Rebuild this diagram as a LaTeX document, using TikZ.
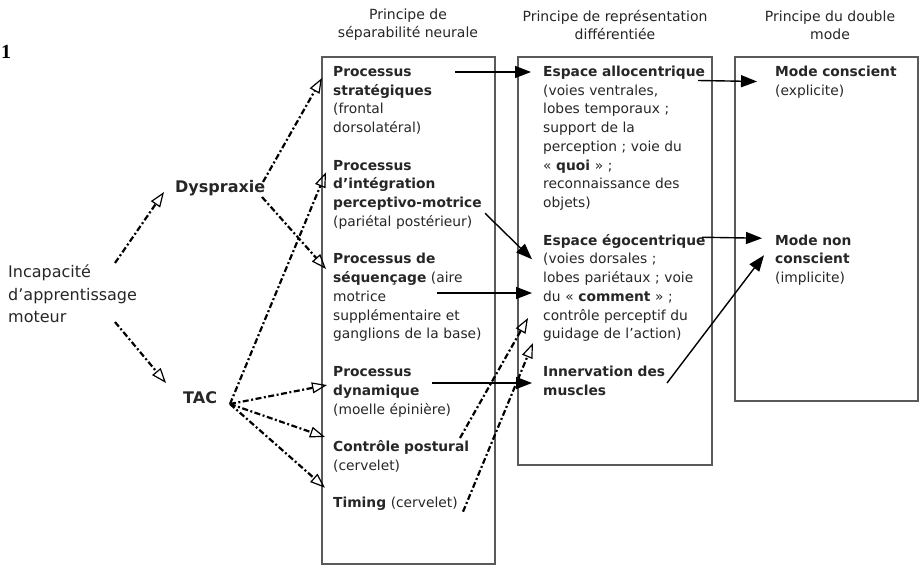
\documentclass[tikz,border=0pt]{standalone}
\usepackage{fontspec}
\setmainfont{DejaVu Sans}
\newfontfamily\serifnum{Liberation Serif}
\usetikzlibrary{arrows.meta}
\definecolor{txtgray}{HTML}{262626}
\definecolor{boxgray}{HTML}{5A5A5A}

\begin{document}
\begin{tikzpicture}[
		x=1pt, y=-1pt,
		every node/.style={inner sep=0pt, text=txtgray},
		title/.style={align=center, font=\fontsize{14}{18}\selectfont},
		blk/.style={anchor=base west, align=left, text width=168pt, font=\fontsize{13.8}{18.75}\selectfont},
		lbl/.style={anchor=base west, font=\fontsize{16}{22.5}\selectfont},
		lblb/.style={anchor=base west, font=\fontsize{16}{22.5}\selectfont\bfseries},
		frame/.style={draw=boxgray, line width=1.4pt},
		plain/.style={draw=black, line width=1.4pt, -{Triangle[length=16pt, width=12pt]}},
		dashdot/.style={draw=black, line width=2.2pt, dash pattern=on 6pt off 2.5pt on 2pt off 2.5pt, -{Triangle[open, length=15pt, width=11pt, line width=1.2pt]}},
		]
		\useasboundingbox (0,0) rectangle (921,569);
		% the three columns
		\draw[frame] (322,57) rectangle (495,564);
		\draw[frame] (518,57) rectangle (712,465);
		\draw[frame] (735,57) rectangle (918,401);
		\node[title] (hsep) at (408,25) {Principe de\\séparabilité neurale};
		\node[title] (hrep) at (615,25) {Principe de représentation\\différentiée};
		\node[title] (hmode) at (830,25) {Principe du double\\mode};
		% left part
		\node[anchor=west, text=black, font=\serifnum\bfseries\fontsize{20}{20}\selectfont] (fignum) at (1,52) {1};
		\node[lbl, align=left, text width=150pt] (inc) at (8,278) {Incapacité\\d’apprentissage\\moteur};
		\node[lblb] (dys) at (175,193) {Dyspraxie};
		\node[lblb] (tac) at (183,403) {TAC};
		% separabilite neurale
		\node[blk] (strat) at (333,76.5) {\textbf{Processus}\\\textbf{stratégiques}\\(frontal\\dorsolatéral)};
		\node[blk] (integ) at (333,170.25) {\textbf{Processus}\\\textbf{d’intégration}\\\textbf{perceptivo-motrice}\\(pariétal postérieur)};
		\node[blk] (seq) at (333,264) {\textbf{Processus de}\\\textbf{séquençage} (aire\\motrice\\supplémentaire et\\ganglions de la base)};
		\node[blk] (dyn) at (333,376.5) {\textbf{Processus}\\\textbf{dynamique}\\(moelle épinière)};
		\node[blk] (post) at (333,451.5) {\textbf{Contrôle postural}\\(cervelet)};
		\node[blk] (tim) at (333,507.75) {\textbf{Timing} (cervelet)};
		% representation differentiee
		\node[blk] (allo) at (543,76.5) {\textbf{Espace allocentrique}\\(voies ventrales,\\lobes temporaux ;\\support de la\\perception ; voie du\\« \textbf{quoi} » ;\\reconnaissance des\\objets)};
		\node[blk] (ego) at (543,245.25) {\textbf{Espace égocentrique}\\(voies dorsales ;\\lobes pariétaux ; voie\\du « \textbf{comment} » ;\\contrôle perceptif du\\guidage de l’action)};
		\node[blk] (innerv) at (543,376.5) {\textbf{Innervation des}\\\textbf{muscles}};
		% double mode
		\node[blk] (consc) at (775,76.5) {\textbf{Mode conscient}\\(explicite)};
		\node[blk] (noncons) at (775,245.25) {\textbf{Mode non}\\\textbf{conscient}\\(implicite)};
		% solid arrows
		\draw[plain] ([shift={(122,-4.5)}]strat.base west) -- ([shift={(-12,-4.5)}]allo.base west);
		\draw[plain] ([shift={(152,43)}]integ.base west) -- ([shift={(-11,14)}]ego.base west);
		\draw[plain] ([shift={(104,29)}]seq.base west) -- ([shift={(-11,47.75)}]ego.base west);
		\draw[plain] ([shift={(99,6.5)}]dyn.base west) -- ([shift={(-11,6.5)}]innerv.base west);
		\draw[plain] ([shift={(155,4)}]allo.base west) -- ([shift={(-18,5)}]consc.base west);
		\draw[plain] ([shift={(159,-8)}]ego.base west) -- ([shift={(-13,-7)}]noncons.base west);
		\draw[plain] ([shift={(124,6.5)}]innerv.base west) -- ([shift={(-11,10)}]noncons.base west);
		% dash-dot arrows
		\draw[dashdot] ([shift={(107,-15)}]inc.base west) -- ([shift={(-11,-1)}]dys.base west);
		\draw[dashdot] ([shift={(107,44)}]inc.base west) -- ([shift={(-17,-20)}]tac.base west);
		\draw[dashdot] ([shift={(88,-11)}]dys.base west) -- ([shift={(-11,1.5)}]strat.base west);
		\draw[dashdot] ([shift={(87,4)}]dys.base west) -- ([shift={(-7,5)}]seq.base west);
		\draw[dashdot] ([shift={(47,1)}]tac.base west) -- ([shift={(-7,2)}]integ.base west);
		\draw[dashdot] ([shift={(47,1)}]tac.base west) -- ([shift={(-6,8.5)}]dyn.base west);
		\draw[dashdot] ([shift={(47,1)}]tac.base west) -- ([shift={(-8,-14.5)}]post.base west);
		\draw[dashdot] ([shift={(47,1)}]tac.base west) -- ([shift={(-8,-20)}]tim.base west);
		\draw[dashdot] ([shift={(127,-13.5)}]post.base west) -- ([shift={(-15,72.75)}]ego.base west);
		\draw[dashdot] ([shift={(130,4)}]tim.base west) -- ([shift={(-10,97.75)}]ego.base west);
	\end{tikzpicture}
\end{document}
